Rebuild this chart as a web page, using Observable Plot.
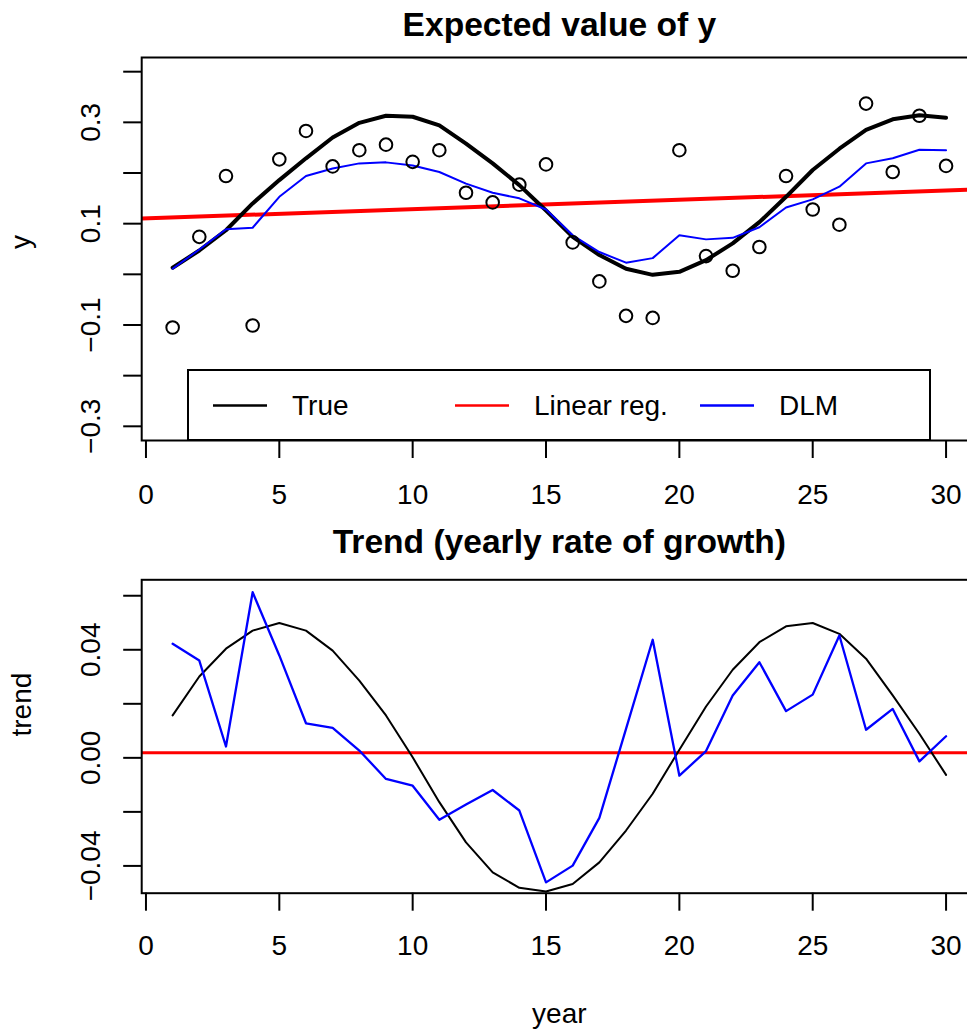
<!DOCTYPE html>
<html>
<head>
<meta charset="utf-8">
<script src="https://cdn.jsdelivr.net/npm/d3@7"></script>
<script src="https://cdn.jsdelivr.net/npm/@observablehq/plot@0.6"></script>
<style>
html, body { margin: 0; padding: 0; background: #fff; overflow: hidden; width: 967px; height: 1032px; }
#wrap { position: relative; width: 967px; height: 1032px; overflow: hidden; font-family: "Liberation Sans", Arial, Helvetica, sans-serif; }
#topPanel, #bottomPanel, #legend { position: absolute; left: 0; }
#topPanel { top: 0; }
#bottomPanel { top: 520px; }
#legend { top: 0; pointer-events: none; }
</style>
</head>
<body>
<div id="wrap">
  <div id="topPanel"></div>
  <div id="bottomPanel"></div>
  <svg id="legend" width="967" height="520"></svg>
</div>
<script>
// ---------- data ----------
const years = [1, 2, 3, 4, 5, 6, 7, 8, 9, 10, 11, 12, 13, 14, 15, 16, 17, 18, 19, 20, 21, 22, 23, 24, 25, 26, 27, 28, 29, 30];

const observedY = [-0.105, 0.074, 0.194, -0.101, 0.227, 0.283, 0.213, 0.245, 0.256, 0.222,
                   0.245, 0.161, 0.142, 0.177, 0.217, 0.063, -0.014, -0.082, -0.086, 0.245,
                   0.036, 0.007, 0.054, 0.194, 0.128, 0.098, 0.337, 0.202, 0.313, 0.214];

const trueLevel = [0.013, 0.047, 0.087, 0.140, 0.186, 0.229, 0.270, 0.299, 0.313, 0.311,
                   0.294, 0.258, 0.219, 0.176, 0.126, 0.074, 0.038, 0.011, -0.001, 0.005,
                   0.028, 0.061, 0.103, 0.153, 0.206, 0.248, 0.285, 0.306, 0.314, 0.309];

const dlmLevel = [0.011, 0.049, 0.089, 0.092, 0.153, 0.194, 0.209, 0.219, 0.221, 0.215,
                  0.202, 0.179, 0.161, 0.150, 0.128, 0.077, 0.044, 0.023, 0.032, 0.077,
                  0.069, 0.072, 0.093, 0.132, 0.148, 0.173, 0.219, 0.229, 0.246, 0.245];

const trueTrend = [0.0157, 0.0301, 0.0404, 0.0471, 0.0499, 0.0471, 0.0397, 0.0286, 0.0157, 0.0002,
                   -0.0164, -0.0313, -0.0424, -0.0481, -0.0495, -0.0467, -0.0387, -0.0269, -0.0133, 0.0030,
                   0.0190, 0.0326, 0.0428, 0.0487, 0.0499, 0.0459, 0.0367, 0.0231, 0.0089, -0.0063];

const dlmTrend = [0.0422, 0.0360, 0.0042, 0.0613, 0.0379, 0.0128, 0.0111, 0.0027, -0.0078, -0.0103,
                  -0.0229, -0.0173, -0.0119, -0.0195, -0.0461, -0.0399, -0.0222, 0.0107, 0.0437, -0.0066,
                  0.0025, 0.0231, 0.0354, 0.0173, 0.0234, 0.0453, 0.0104, 0.0181, -0.0013, 0.0080];

// linear regression (abline) parameters
const regIntercept = 0.1103;
const regSlope = 0.00184;

// axes
const xDomain = [-0.16, 31.16];
const xTicks = [0, 5, 10, 15, 20, 25, 30];
const yDomainTop = [-0.328, 0.428];
const yTicksTop = [-0.3, -0.2, -0.1, 0, 0.1, 0.2, 0.3, 0.4];
const yLabelsTop = [-0.3, -0.1, 0.1, 0.3];
const yDomainBottom = [-0.0501, 0.0659];
const yTicksBottom = [-0.04, -0.02, 0, 0.02, 0.04, 0.06];
const yLabelsBottom = [-0.04, 0, 0.04];

const titles = ["Expected value of y", "Trend (yearly rate of growth)"];
const xLabel = "year";
const yLabels = ["y", "trend"];
const seriesNames = ["True", "Linear reg.", "DLM"];
const seriesColors = ["black", "red", "blue"];

// ---------- plots ----------
const font = "'Liberation Sans', Arial, Helvetica, sans-serif";
const style = { fontFamily: font, fontSize: "28px", color: "black", background: "transparent" };
const fmt1 = d3.format(".1f");
const fmt2 = d3.format(".2f");

const topPlot = Plot.plot({
  width: 967, height: 520,
  marginTop: 57, marginBottom: 80, marginLeft: 141.2, marginRight: -9.5,
  style,
  x: { domain: xDomain },
  y: { domain: yDomainTop },
  marks: [
    Plot.axisX({ ticks: xTicks, tickSize: 18, tickPadding: 26, strokeWidth: 2, label: null, tickFormat: d => String(d) }),
    Plot.axisY({ ticks: yTicksTop, tickSize: 18, tickRotate: -90, tickPadding: 24, strokeWidth: 2, label: null,
                 tickFormat: d => yLabelsTop.includes(d) ? fmt1(d) : "" }),
    Plot.link([0], {
      x1: [xDomain[0]], y1: [regIntercept + regSlope * xDomain[0]],
      x2: [xDomain[1]], y2: [regIntercept + regSlope * xDomain[1]],
      stroke: seriesColors[1], strokeWidth: 4
    }),
    Plot.line(years, { x: years, y: trueLevel, stroke: seriesColors[0], strokeWidth: 4 }),
    Plot.line(years, { x: years, y: dlmLevel, stroke: seriesColors[2], strokeWidth: 2 }),
    Plot.dot(years, { x: years, y: observedY, r: 6.3, stroke: "black", strokeWidth: 2, fill: "none" }),
    Plot.frame({ stroke: "black", strokeWidth: 2 }),
    Plot.text([titles[0]], { text: d => d, frameAnchor: "top", dy: -22, lineAnchor: "bottom", fontWeight: "bold", fontSize: 33.6 }),
    Plot.text([yLabels[0]], { text: d => d, frameAnchor: "left", dx: -121, rotate: -90 })
  ]
});
document.getElementById("topPanel").appendChild(topPlot);

const bottomPlot = Plot.plot({
  width: 967, height: 512,
  marginTop: 59.3, marginBottom: 139.3, marginLeft: 141.2, marginRight: -9.5,
  style,
  x: { domain: xDomain },
  y: { domain: yDomainBottom },
  marks: [
    Plot.axisX({ ticks: xTicks, tickSize: 18, tickPadding: 24, strokeWidth: 2, label: null, tickFormat: d => String(d) }),
    Plot.axisY({ ticks: yTicksBottom, tickSize: 18, tickRotate: -90, tickPadding: 24, strokeWidth: 2, label: null,
                 tickFormat: d => yLabelsBottom.includes(d) ? fmt2(d) : "" }),
    Plot.ruleY([regSlope], { stroke: seriesColors[1], strokeWidth: 3 }),
    Plot.line(years, { x: years, y: trueTrend, stroke: seriesColors[0], strokeWidth: 2 }),
    Plot.line(years, { x: years, y: dlmTrend, stroke: seriesColors[2], strokeWidth: 2.3 }),
    Plot.frame({ stroke: "black", strokeWidth: 2 }),
    Plot.text([titles[1]], { text: d => d, frameAnchor: "top", dy: -27.3, lineAnchor: "bottom", fontWeight: "bold", fontSize: 33.6 }),
    Plot.text([xLabel], { text: d => d, frameAnchor: "bottom", dy: 129.3, lineAnchor: "bottom" }),
    Plot.text([yLabels[1]], { text: d => d, frameAnchor: "left", dx: -120, rotate: -90 })
  ]
});
document.getElementById("bottomPanel").appendChild(bottomPlot);

// ---------- legend (inside top panel, R-style box) ----------
const lg = d3.select("#legend");
lg.append("rect").attr("x", 188).attr("y", 370).attr("width", 742).attr("height", 70)
  .attr("fill", "white").attr("stroke", "black").attr("stroke-width", 2);
const itemX = [213, 455, 700];
seriesNames.forEach((name, i) => {
  lg.append("line").attr("x1", itemX[i]).attr("x2", itemX[i] + 54)
    .attr("y1", 405.5).attr("y2", 405.5)
    .attr("stroke", seriesColors[i]).attr("stroke-width", 2.3);
  lg.append("text").attr("x", itemX[i] + 79).attr("y", 415)
    .attr("font-family", font).attr("font-size", 28).attr("fill", "black")
    .text(name);
});
</script>
</body>
</html>
